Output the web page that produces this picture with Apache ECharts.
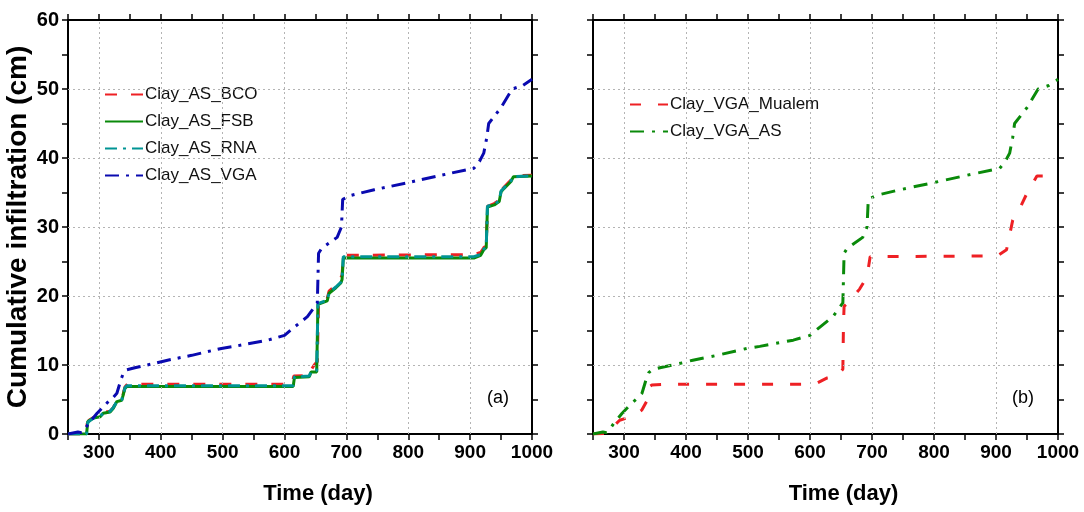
<!DOCTYPE html>
<html>
<head>
<meta charset="utf-8">
<script src="https://cdn.jsdelivr.net/npm/echarts@6/dist/echarts.min.js"></script>
<style>
html,body{margin:0;padding:0;background:#fff;}
#chart{width:1084px;height:512px;}
</style>
</head>
<body>
<div id="chart"></div>
<script>
// ---- data (time in days, cumulative infiltration in cm) ----
var xTicksMajor = [300, 400, 500, 600, 700, 800, 900, 1000];
var gridX = [300, 400, 500, 600, 700, 800, 900];
var gridY = [10, 20, 30, 40, 50];

var clayAS_BCO = [[250,0],[279,0],[281,1.5],[284,2.0],[291,2.4],[302,2.6],[307,3.1],[318,3.3],[323,3.8],[329,4.8],[337,5.0],[342,6.8],[346,7.2],[612,7.2],[615,8.4],[640,8.5],[643,9.3],[648,10.0],[653,10.5],[655,19.2],[669,19.6],[672,20.7],[683,21.6],[690,22.5],[693,23.0],[695,25.9],[906,26.0],[917,26.3],[922,27.0],[926,27.3],[928,33.0],[939,33.4],[947,33.9],[950,35.3],[955,35.8],[966,36.8],[970,37.4],[1000,37.5]];

var clayAS_FSB = [[250,0],[280,0],[282,1.8],[291,2.3],[302,2.5],[307,3.0],[318,3.2],[323,3.7],[329,4.7],[337,4.9],[342,6.6],[345,6.9],[614,6.9],[616,8.2],[640,8.3],[643,9.0],[652,9.0],[654,18.8],[669,19.3],[672,20.4],[683,21.2],[691,21.9],[693,22.4],[695,25.5],[906,25.5],[917,25.9],[922,26.7],[926,27.0],[928,32.9],[939,33.2],[947,33.7],[950,35.1],[955,35.6],[966,36.6],[970,37.3],[1000,37.4]];

var clayAS_RNA = [[250,0],[280,0],[282,1.7],[291,2.3],[302,2.6],[307,3.0],[318,3.3],[323,3.8],[329,4.7],[337,5.0],[342,6.7],[345,7.0],[614,7.0],[616,8.3],[640,8.4],[643,9.1],[652,9.2],[654,18.9],[669,19.4],[672,20.5],[683,21.3],[691,22.0],[693,22.5],[695,25.7],[906,25.7],[917,26.0],[922,26.8],[926,27.1],[928,33.0],[939,33.3],[947,33.8],[950,35.2],[955,35.7],[966,36.7],[970,37.3],[1000,37.4]];

var clayAS_VGA = [[250,0],[258,0.15],[266,0.3],[272,0.2],[278,0.8],[284,1.6],[297,3.0],[313,4.5],[322,5.2],[329,5.9],[336,8.0],[340,8.9],[345,9.3],[358,9.6],[393,10.3],[411,10.7],[450,11.4],[498,12.4],[519,12.7],[573,13.6],[600,14.3],[616,15.5],[637,17.0],[653,19.0],[655,26.2],[660,26.9],[685,28.5],[692,30.0],[694,34.0],[708,34.6],[745,35.4],[798,36.4],[853,37.5],[895,38.3],[906,38.5],[915,39.5],[922,40.7],[927,43.0],[930,45.0],[950,47.3],[968,50.0],[985,50.5],[1000,51.4]];

var clayVGA_Mualem = [[250,0],[270,0.1],[280,0.4],[285,1.3],[293,2.0],[318,2.7],[329,3.5],[337,4.8],[339,5.4],[340,6.8],[345,7.1],[369,7.2],[600,7.2],[612,7.4],[627,8.1],[643,8.3],[653,9.4],[654,16.0],[655,18.5],[661,19.0],[680,21.0],[692,22.8],[697,25.7],[893,25.8],[905,26.0],[917,26.7],[927,31.0],[940,33.0],[950,34.9],[966,37.4],[985,37.4]];

var clayVGA_AS = clayAS_VGA;

// ---- chart ----
var FONT = "'Liberation Sans', Arial, sans-serif";
var RED = '#ee2024', GREEN = '#0a8a0a', TEAL = '#009494', BLUE = '#0a0ab0', DKGREEN = '#0a8a0a';

function xAx(gridIndex, pos, showLabel, showName) {
  return {
    type: 'value', gridIndex: gridIndex, position: pos, min: 250, max: 1000, interval: 50,
    name: showName ? 'Time (day)' : '', nameLocation: 'middle', nameGap: 49,
    nameTextStyle: {fontFamily: FONT, fontWeight: 'bold', fontSize: 22, color: '#000', padding: [0, 0, 0, 36]},
    axisLine: {show: true, onZero: false, lineStyle: {color: '#000', width: 2}},
    axisTick: {show: true, inside: false, length: 6, lineStyle: {color: '#000', width: 1.5}},
    axisLabel: {show: showLabel, margin: 9, fontFamily: FONT, fontWeight: 'bold', fontSize: 19, color: '#000',
      formatter: function (v) { return xTicksMajor.indexOf(v) >= 0 ? String(v) : ''; }},
    splitLine: {show: false}
  };
}
function yAx(gridIndex, pos, showLabel, showName) {
  return {
    type: 'value', gridIndex: gridIndex, position: pos, min: 0, max: 60, interval: 5,
    name: showName ? 'Cumulative infiltration (cm)' : '', nameLocation: 'middle', nameGap: 36,
    nameTextStyle: {fontFamily: FONT, fontWeight: 'bold', fontSize: 28, color: '#000'},
    axisLine: {show: true, onZero: false, lineStyle: {color: '#000', width: 2}},
    axisTick: {show: true, inside: false, length: 6, lineStyle: {color: '#000', width: 1.5}},
    axisLabel: {show: showLabel, margin: 9, fontFamily: FONT, fontWeight: 'bold', fontSize: 20, color: '#000',
      formatter: function (v) { return v % 10 === 0 ? String(v) : ''; }},
    splitLine: {show: false}
  };
}

function gridSeries(xi, yi) {
  var d = gridX.map(function (v) { return {xAxis: v}; }).concat(gridY.map(function (v) { return {yAxis: v}; }));
  return {
    type: 'line', xAxisIndex: xi, yAxisIndex: yi, data: [], z: 1, silent: true,
    markLine: {silent: true, symbol: ['none', 'none'], label: {show: false}, animation: false,
      lineStyle: {type: [2, 3], color: '#b4b4b4', width: 1}, data: d}
  };
}
function lineSeries(name, data, xi, yi, color, dash, z) {
  return {
    name: name, type: 'line', xAxisIndex: xi, yAxisIndex: yi, data: data, symbol: 'none', z: z,
    lineStyle: {color: color, width: 3, type: dash, cap: 'butt'}, itemStyle: {color: color}
  };
}
var legendText = {fontFamily: FONT, fontSize: 17, color: '#111', padding: [0, 0, 0, -3]};

var option = {
  animation: false,
  backgroundColor: '#fff',
  grid: [
    {left: 68, top: 20, width: 464, height: 414},
    {left: 593, top: 20, width: 465, height: 414}
  ],
  xAxis: [xAx(0, 'bottom', true, true), xAx(0, 'top', false, false), xAx(1, 'bottom', true, true), xAx(1, 'top', false, false)],
  yAxis: [yAx(0, 'left', true, true), yAx(0, 'right', false, false), yAx(1, 'left', false, false), yAx(1, 'right', false, false)],
  legend: [
    {data: ['Clay_AS_BCO', 'Clay_AS_FSB', 'Clay_AS_RNA', 'Clay_AS_VGA'], orient: 'vertical', left: 99, top: 81,
      itemWidth: 38, itemHeight: 14, itemGap: 10, itemStyle: {opacity: 0}, textStyle: legendText},
    {data: ['Clay_VGA_Mualem', 'Clay_VGA_AS'], orient: 'vertical', left: 624, top: 91,
      itemWidth: 38, itemHeight: 14, itemGap: 10, itemStyle: {opacity: 0}, textStyle: legendText}
  ],
  graphic: [
    {type: 'text', left: 487, top: 389, style: {text: '(a)', font: "18px 'Liberation Sans', Arial", fill: '#000'}},
    {type: 'text', left: 1012, top: 389, style: {text: '(b)', font: "18px 'Liberation Sans', Arial", fill: '#000'}}
  ],
  series: [
    gridSeries(0, 0),
    gridSeries(2, 2),
    lineSeries('Clay_AS_BCO', clayAS_BCO, 0, 0, RED, [12, 14], 3),
    lineSeries('Clay_AS_FSB', clayAS_FSB, 0, 0, GREEN, 'solid', 4),
    lineSeries('Clay_AS_RNA', clayAS_RNA, 0, 0, TEAL, [12, 6, 3, 6], 5),
    lineSeries('Clay_AS_VGA', clayAS_VGA, 0, 0, BLUE, [14, 7, 3, 7], 6),
    lineSeries('Clay_VGA_Mualem', clayVGA_Mualem, 2, 2, RED, [11, 17], 3),
    lineSeries('Clay_VGA_AS', clayVGA_AS, 2, 2, DKGREEN, [14, 8, 3, 8], 4)
  ]
};
var chart = echarts.init(document.getElementById('chart'), null, {renderer: 'canvas'});
chart.setOption(option);
</script>
</body>
</html>
